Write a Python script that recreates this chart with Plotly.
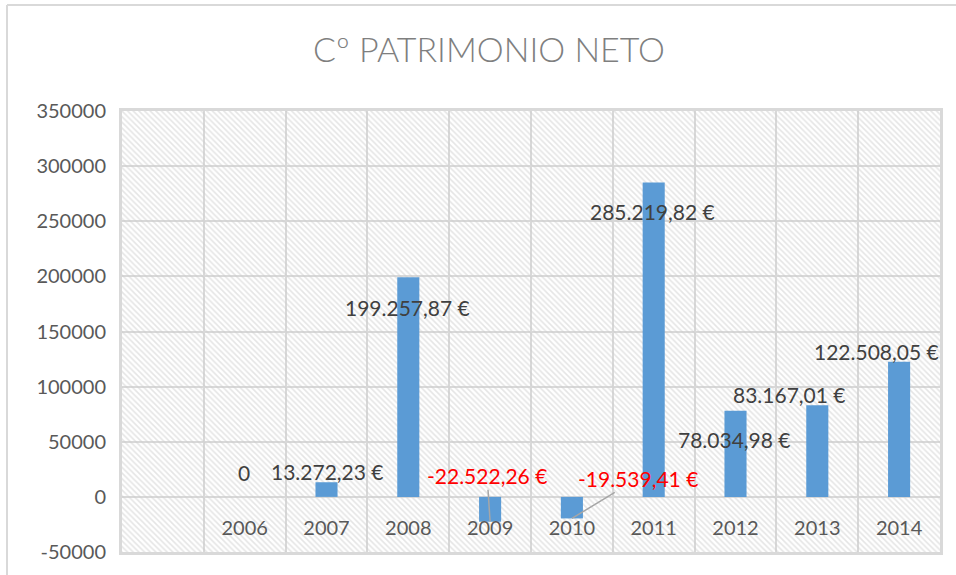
import plotly.graph_objects as go

# ---- data ----
title_text = "Cº PATRIMONIO NETO"
categories = ["", "2006", "2007", "2008", "2009", "2010", "2011", "2012", "2013", "2014"]
values = [None, 0, 13272.23, 199257.87, -22522.26, -19539.41, 285219.82, 78034.98, 83167.01, 122508.05]
y_ticks = [-50000, 0, 50000, 100000, 150000, 200000, 250000, 300000, 350000]
y_tick_labels = [str(v) for v in y_ticks]

# ---- styling ----
FONT = "Lato"
BAR_COLOR = "#5b9bd5"
GRID = "#d9d9d9"
LABEL_COLOR = "#404040"
NEG_COLOR = "#ff0000"
AXIS_TEXT = "#595959"

# label offsets in px (xshift, yshift) for plain labels, (ax, ay) for leader-line labels
label_shift = {
    "2006": (-1, 24), "2007": (1, 11), "2008": (-1, -30), "2011": (-1, -29),
    "2012": (-1, -29), "2013": (-28, 11), "2014": (-23, 10),
}
leader_offset = {"2009": (-3, -46), "2010": (66, -40)}


def fmt_eur(v):
    if v == 0:
        return "0"
    s = f"{abs(v):,.2f}".replace(",", "X").replace(".", ",").replace("X", ".")
    return ("-" if v < 0 else "") + s + " €"


positions = list(range(len(categories)))
ymin, ymax = y_ticks[0], y_ticks[-1]

fig = go.Figure()

# hatched plot background (base subplot)
fig.add_trace(go.Bar(
    x=[(positions[0] + positions[-1]) / 2], y=[ymax - ymin], base=[ymin],
    width=[len(categories)],
    marker=dict(color="rgba(0,0,0,0)", line_width=0,
                pattern=dict(shape="\\", fgcolor="#cccccc", size=4, solidity=0.4)),
    hoverinfo="skip", showlegend=False, xaxis="x", yaxis="y",
))

# data bars (overlay subplot, drawn above the hatching)
fig.add_trace(go.Bar(
    x=positions, y=values, width=0.27,
    marker=dict(color=BAR_COLOR, line_width=0),
    showlegend=False, xaxis="x", yaxis="y2",
))

annotations = []
for p, c, v in zip(positions, categories, values):
    if v is None:
        continue
    txt = fmt_eur(v)
    if c in leader_offset:
        ax, ay = leader_offset[c]
        annotations.append(dict(
            x=p, y=v, xref="x", yref="y2", text=txt, showarrow=True,
            arrowhead=0, arrowwidth=1.5, arrowcolor="#a6a6a6", ax=ax, ay=ay,
            font=dict(family=FONT, size=21, color=NEG_COLOR),
        ))
    else:
        xs, ys = label_shift.get(c, (0, 10))
        annotations.append(dict(
            x=p, y=v, xref="x", yref="y2", text=txt, showarrow=False,
            xshift=xs, yshift=ys, yanchor="middle",
            font=dict(family=FONT, size=21, color=LABEL_COLOR),
        ))

fig.update_layout(
    width=956, height=575,
    margin=dict(l=122, r=16, t=111, b=23),
    paper_bgcolor="white", plot_bgcolor="white",
    barmode="overlay",
    title=dict(text=title_text, x=0.5115, xref="container", xanchor="center",
               y=0.913, yref="container", yanchor="middle",
               font=dict(family=FONT, size=34, weight=300, color="#7f7f7f")),
    annotations=annotations,
    shapes=[
        dict(type="line", xref="paper", yref="paper", x0=-0.1406, x1=-0.1406, y0=-0.1, y1=1.2404,
             line=dict(color=GRID, width=2)),
        dict(type="line", xref="paper", yref="paper", x0=-0.1406, x1=1.02, y0=1.2404, y1=1.2404,
             line=dict(color=GRID, width=2)),
    ],
    xaxis=dict(
        range=[-0.5, len(categories) - 0.5],
        tickmode="array", tickvals=positions[1:], ticktext=categories[1:],
        ticklabelposition="inside", ticklabelstandoff=14, ticks="",
        ticklabeloverflow="allow",
        tickfont=dict(family=FONT, size=20, color=AXIS_TEXT),
        showgrid=False, zeroline=False,
        minor=dict(tickmode="array", tickvals=[p + 0.5 for p in positions[:-1]],
                   showgrid=True, gridcolor=GRID, gridwidth=2, ticks=""),
        showline=True, linecolor=GRID, linewidth=3, mirror=True,
        fixedrange=True,
    ),
    yaxis=dict(
        range=[ymin, ymax], tickmode="array", tickvals=y_ticks,
        showticklabels=False, ticks="",
        showgrid=True, gridcolor=GRID, gridwidth=2, zeroline=False,
        showline=True, linecolor=GRID, linewidth=3, mirror=True,
        fixedrange=True,
    ),
    yaxis2=dict(
        range=[ymin, ymax], overlaying="y", anchor="free", position=0, side="left",
        tickmode="array", tickvals=y_ticks, ticktext=y_tick_labels,
        tickfont=dict(family=FONT, size=20, color=AXIS_TEXT),
        ticks="", ticklabelstandoff=16, ticklabeloverflow="allow",
        showgrid=False, zeroline=False, showline=False,
        fixedrange=True,
    ),
)

fig.write_html("out.html", config={"displayModeBar": False},
               post_script="document.body.style.margin='0';")
